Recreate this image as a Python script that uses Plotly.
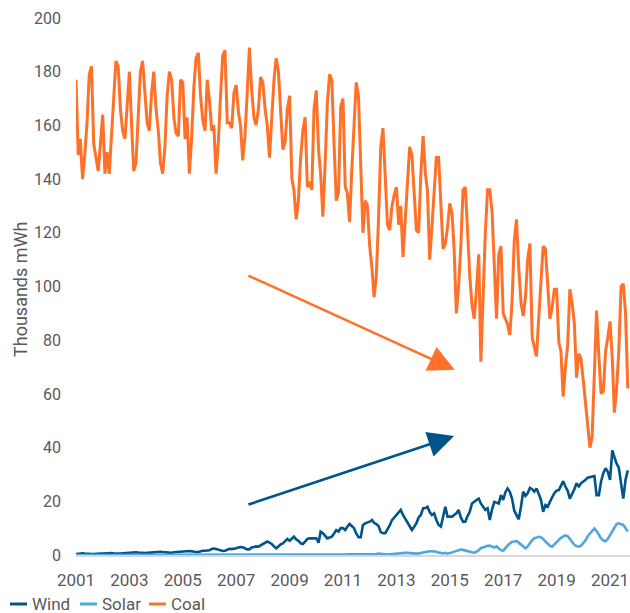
import pandas as pd
import plotly.graph_objects as go

# Monthly series, Jan 2001 - Sep 2021 (thousands mWh)
coal = [
    177, 149, 155, 140, 149, 161, 179, 182, 153, 148, 143, 153,
    164, 142, 150, 142, 156, 169, 184, 182, 166, 158, 155, 167,
    180, 160, 143, 146, 161, 180, 184, 171, 161, 158, 172, 180,
    166, 158, 146, 142, 152, 171, 180, 177, 163, 157, 156, 177,
    176, 155, 163, 142, 155, 174, 185, 187, 171, 162, 158, 177,
    169, 158, 160, 142, 153, 171, 186, 188, 161, 161, 159, 172,
    175, 165, 160, 147, 156, 172, 189, 173, 163, 160, 166, 178,
    176, 166, 160, 148, 162, 177, 185, 180, 165, 151, 154, 166,
    171, 140, 136, 125, 132, 148, 158, 163, 137, 139, 136, 166,
    173, 151, 142, 126, 145, 168, 179, 177, 153, 132, 135, 167,
    170, 137, 135, 124, 143, 163, 176, 171, 147, 120, 132, 130,
    115, 107, 96, 104, 125, 152, 159, 140, 123, 121, 130, 134,
    137, 123, 130, 111, 124, 141, 152, 149, 132, 121, 120, 142,
    156, 142, 136, 110, 122, 137, 148, 148, 131, 114, 116, 122,
    131, 127, 114, 90, 100, 115, 136, 137, 121, 104, 93, 88,
    99, 112, 72, 96, 120, 136, 136, 128, 110, 88, 112, 115,
    90, 88, 86, 82, 94, 117, 125, 107, 94, 89, 96, 110,
    116, 81, 78, 74, 88, 104, 115, 114, 100, 88, 92, 99,
    99, 79, 76, 59, 70, 78, 99, 94, 86, 66, 75, 73,
    65, 56, 50, 40, 44, 66, 91, 74, 60, 61, 76, 81,
    87, 73, 53, 62, 76, 100, 101, 90, 62,
]

wind = [
    0.4, 0.5, 0.5, 0.6, 0.5, 0.4, 0.4, 0.4, 0.4, 0.5, 0.5, 0.5,
    0.5, 0.6, 0.7, 0.8, 0.7, 0.6, 0.5, 0.5, 0.5, 0.6, 0.7, 0.7,
    0.8, 0.9, 1.1, 1.0, 0.9, 0.8, 0.8, 0.7, 0.8, 0.9, 0.9, 1.0,
    1.0, 1.1, 1.2, 1.1, 1.0, 0.9, 0.9, 0.8, 1.0, 1.1, 1.2, 1.3,
    1.3, 1.5, 1.6, 1.5, 1.4, 1.2, 1.1, 1.1, 1.4, 1.6, 1.6, 1.7,
    1.8, 2.2, 2.4, 2.2, 2.0, 1.6, 1.5, 1.6, 2.0, 2.3, 2.2, 2.3,
    2.5, 2.8, 3.0, 2.9, 2.6, 2.1, 2.1, 2.8, 3.0, 3.2, 3.1, 3.6,
    4.1, 4.6, 5.0, 4.6, 4.1, 3.2, 2.5, 3.2, 4.0, 4.3, 5.0, 6.0,
    5.3, 6.0, 6.8, 5.8, 5.3, 4.3, 4.1, 5.0, 6.0, 6.2, 6.2, 6.0,
    6.2, 4.6, 8.7, 8.1, 7.0, 6.2, 6.5, 6.8, 8.0, 9.3, 8.7, 10.0,
    10.0, 9.3, 10.5, 11.6, 10.8, 10.0, 8.0, 6.6, 6.6, 11.2, 11.8, 12.0,
    12.4, 13.0, 12.0, 11.5, 10.8, 8.5, 8.1, 8.1, 9.5, 11.0, 13.0, 14.0,
    15.0, 16.0, 16.8, 14.9, 13.5, 12.4, 10.5, 9.3, 10.5, 11.8, 14.0, 14.9,
    17.4, 17.5, 18.0, 16.0, 14.9, 15.5, 13.0, 11.2, 10.6, 15.0, 18.0, 14.3,
    14.3, 14.3, 14.9, 15.5, 16.8, 14.0, 12.4, 12.4, 14.5, 16.1, 19.2, 20.0,
    20.5, 21.0, 19.2, 18.0, 16.8, 17.4, 13.0, 17.0, 19.8, 19.5, 19.2, 22.3,
    20.5, 23.5, 24.8, 23.5, 21.0, 16.5, 15.0, 13.3, 18.0, 23.6, 22.0, 23.0,
    25.0, 24.5, 23.6, 24.8, 22.8, 20.5, 16.1, 18.6, 18.0, 20.0, 21.5, 23.0,
    24.0, 24.2, 26.1, 27.5, 25.5, 24.0, 21.0, 22.5, 24.5, 26.7, 25.5, 26.7,
    27.3, 28.0, 28.8, 29.0, 29.2, 29.4, 22.3, 22.3, 27.5, 30.5, 32.3, 31.0,
    28.0, 39.0, 36.5, 34.0, 32.5, 27.3, 21.0, 28.0, 31.5,
]

solar = [
    0.0, 0.0, 0.0, 0.0, 0.0, 0.0, 0.0, 0.0, 0.0, 0.0, 0.0, 0.0,
    0.0, 0.0, 0.0, 0.0, 0.0, 0.0, 0.0, 0.0, 0.0, 0.0, 0.0, 0.0,
    0.0, 0.0, 0.0, 0.0, 0.0, 0.0, 0.0, 0.0, 0.0, 0.0, 0.0, 0.0,
    0.0, 0.0, 0.0, 0.0, 0.0, 0.0, 0.0, 0.0, 0.0, 0.0, 0.0, 0.0,
    0.0, 0.0, 0.0, 0.0, 0.0, 0.0, 0.0, 0.0, 0.0, 0.0, 0.0, 0.0,
    0.0, 0.0, 0.0, 0.0, 0.0, 0.0, 0.0, 0.0, 0.0, 0.0, 0.0, 0.0,
    0.0, 0.0, 0.0, 0.0, 0.0, 0.0, 0.0, 0.0, 0.0, 0.0, 0.0, 0.0,
    0.0, 0.0, 0.0, 0.0, 0.0, 0.0, 0.0, 0.0, 0.0, 0.0, 0.0, 0.0,
    0.0, 0.1, 0.1, 0.1, 0.1, 0.1, 0.1, 0.1, 0.0, 0.0, 0.1, 0.1,
    0.1, 0.2, 0.2, 0.2, 0.2, 0.2, 0.2, 0.1, 0.1, 0.1, 0.1, 0.1,
    0.2, 0.2, 0.3, 0.3, 0.3, 0.3, 0.3, 0.2, 0.2, 0.2, 0.2, 0.3,
    0.3, 0.4, 0.4, 0.4, 0.5, 0.5, 0.4, 0.3, 0.2, 0.3, 0.3, 0.4,
    0.5, 0.6, 0.6, 0.7, 0.8, 0.8, 0.7, 0.5, 0.4, 0.5, 0.6, 0.8,
    1.0, 1.2, 1.3, 1.4, 1.4, 1.4, 1.2, 0.9, 0.7, 0.6, 0.8, 0.5,
    0.7, 1.0, 1.3, 1.6, 1.8, 2.0, 1.9, 1.6, 1.3, 1.1, 1.0, 0.9,
    1.2, 1.8, 2.6, 2.8, 3.2, 3.4, 3.5, 3.2, 2.8, 3.2, 2.4, 1.8,
    1.6, 2.4, 3.5, 4.3, 4.9, 5.0, 5.2, 4.6, 3.8, 3.0, 2.5, 3.2,
    4.5, 5.5, 6.2, 6.5, 6.8, 6.6, 6.0, 5.0, 4.2, 3.5, 3.1, 3.8,
    4.8, 5.6, 6.4, 7.0, 7.3, 7.0, 5.9, 4.6, 3.8, 3.3, 3.1, 3.5,
    4.6, 5.5, 7.0, 8.0, 8.7, 9.9, 8.9, 7.5, 6.2, 5.4, 5.1, 6.0,
    7.4, 8.5, 10.2, 11.5, 11.8, 11.6, 11.2, 10.0, 8.7,
]

start_month = "2001-01-01"
axis_end = "2021-10-01"
months = pd.date_range(start_month, periods=len(coal), freq="MS")

series_names = ["Wind", "Solar", "Coal"]
series_values = [wind, solar, coal]
series_colors = ["#00548C", "#4EA8DE", "#FF7028"]
series_widths = [2.6, 2.6, 3.0]

y_title = "Thousands mWh"

# Trend arrows: (tail date, tail value, head date, head value, colour)
arrows = [
    ("2007-05-28", 104.3, "2015-03-10", 69.0, "#FF7028"),
    ("2007-05-28", 18.6, "2015-03-01", 44.3, "#00548C"),
]

W, H = 630, 613
ML, MR, MT, MB = 76, 0, 18, 58
PW, PH = W - ML - MR, H - MT - MB


def px_x(px):
    return (px - ML) / PW


def px_y(py):
    return (H - MB - py) / PH


fig = go.Figure()
for name, vals, col, w in zip(series_names, series_values, series_colors, series_widths):
    fig.add_trace(go.Scatter(x=months, y=vals, mode="lines", name=name,
                             line=dict(color=col, width=w), showlegend=False))

for tx, ty, hx, hy, col in arrows:
    fig.add_annotation(x=hx, y=hy, ax=tx, ay=ty, xref="x", yref="y",
                       axref="x", ayref="y", text="", showarrow=True,
                       arrowhead=2, arrowsize=2.0, arrowwidth=2.6,
                       arrowcolor=col, standoff=0, startstandoff=0)

text_color = "#595959"
fig.add_annotation(text=y_title, xref="paper", yref="paper", x=px_x(20), y=px_y(290),
                   xanchor="center", yanchor="middle", textangle=-90,
                   showarrow=False, font=dict(size=18, color=text_color))

# Legend drawn below the axis: line sample + label for each series
legend_left = [10, 80, 149]
legend_y = 604
for name, col, lx in zip(series_names, series_colors, legend_left):
    fig.add_shape(type="line", xref="paper", yref="paper",
                  x0=px_x(lx), x1=px_x(lx + 17), y0=px_y(legend_y), y1=px_y(legend_y),
                  line=dict(color=col, width=3))
    fig.add_annotation(text=name, xref="paper", yref="paper", x=px_x(lx + 20),
                       y=px_y(legend_y), xanchor="left", yanchor="middle",
                       showarrow=False, font=dict(size=17, color=text_color))

fig.update_layout(
    width=W, height=H,
    margin=dict(l=ML, r=MR, t=MT, b=MB, autoexpand=False),
    paper_bgcolor="white", plot_bgcolor="white",
    font=dict(family="Roboto", size=16, color=text_color),
    showlegend=False,
)
fig.update_xaxes(type="date", range=[start_month, axis_end], tickformat="%Y",
                 dtick="M24", tick0=start_month, showgrid=False, zeroline=False,
                 showline=True, linecolor="#D9D9D9", linewidth=1.5, ticks="",
                 automargin=False, ticklabelstandoff=9,
                 tickfont=dict(size=17, color=text_color))
fig.update_yaxes(range=[0, 200], dtick=20, showgrid=False, zeroline=False,
                 showline=False, ticks="", automargin=False, ticklabelstandoff=14,
                 tickfont=dict(size=16, color=text_color))

fig.write_html("out.html", config={"displayModeBar": False},
               post_script="document.body.style.margin='0px';document.body.style.padding='0px';")
